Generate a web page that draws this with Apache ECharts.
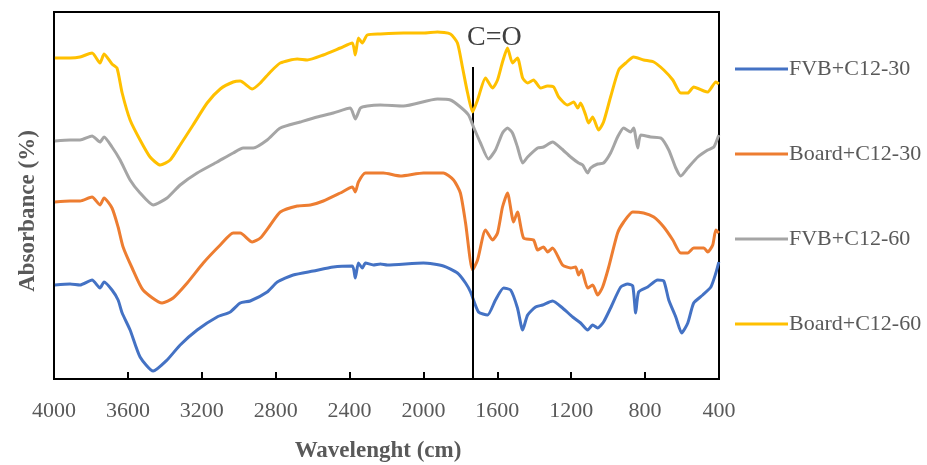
<!DOCTYPE html>
<html>
<head>
<meta charset="utf-8">
<script src="https://cdn.jsdelivr.net/npm/echarts@6/dist/echarts.min.js"></script>
<style>
  html, body { margin: 0; padding: 0; background: #fff; }
  #ec { width: 927px; height: 465px; }
</style>
</head>
<body>
<div id="ec"></div>
<script>
// wavenumber (cm-1) / absorbance (arbitrary units, curves stacked with offsets)
const seriesNames = ['FVB+C12-30', 'Board+C12-30', 'FVB+C12-60', 'Board+C12-60']
const seriesColors = ['#4472C4', '#ED7D31', '#A5A5A5', '#FFC000']
const xTicks = [4000, 3600, 3200, 2800, 2400, 2000, 1600, 1200, 800, 400]
const coLine = 1735

const fvb30 = [
  [3995, 94], [3913, 95], [3859, 94], [3794, 99], [3751, 91], [3729, 97], [3686, 89], [3653, 79],
  [3631, 66], [3588, 49], [3534, 22], [3463, 8], [3388, 19], [3317, 34], [3225, 49], [3117, 62],
  [3046, 67], [2992, 76], [2938, 78], [2846, 87], [2791, 97], [2705, 104], [2596, 108], [2488, 112],
  [2385, 113], [2369, 101], [2352, 116], [2331, 111], [2314, 116], [2271, 114], [2233, 115], [2195, 114],
  [2000, 116], [1892, 113], [1816, 106], [1772, 96], [1745, 87], [1702, 67], [1653, 64], [1610, 79],
  [1566, 91], [1528, 89], [1491, 71], [1463, 49], [1436, 64], [1393, 72], [1355, 74], [1301, 78],
  [1247, 71], [1192, 62], [1149, 56], [1111, 49], [1084, 54], [1057, 51], [1025, 57], [987, 71],
  [932, 92], [894, 95], [867, 93], [851, 66], [835, 87], [786, 92], [732, 99], [699, 98],
  [672, 79], [634, 62], [602, 46], [569, 56], [537, 76], [488, 84], [444, 92], [417, 106], [401, 117]
]

const board30 = [
  [3995, 177], [3913, 178], [3859, 178], [3794, 182], [3751, 174], [3729, 181], [3686, 171], [3653, 152],
  [3626, 132], [3577, 111], [3518, 89], [3415, 76], [3355, 81], [3279, 96], [3192, 116], [3100, 134],
  [3030, 146], [2992, 146], [2927, 137], [2883, 141], [2829, 154], [2775, 167], [2683, 173], [2612, 174],
  [2542, 178], [2450, 186], [2385, 192], [2369, 187], [2352, 197], [2314, 206], [2217, 206], [2125, 203],
  [2000, 206], [1892, 206], [1837, 199], [1800, 186], [1772, 156], [1734, 109], [1707, 119], [1664, 149],
  [1626, 139], [1599, 146], [1572, 172], [1545, 186], [1512, 157], [1491, 167], [1458, 141], [1404, 139],
  [1382, 129], [1350, 132], [1328, 127], [1301, 131], [1247, 114], [1203, 111], [1176, 112], [1160, 104],
  [1144, 109], [1111, 91], [1084, 94], [1057, 84], [1030, 92], [997, 112], [949, 146], [916, 157],
  [867, 167], [808, 166], [753, 162], [699, 152], [650, 139], [607, 126], [569, 126], [537, 131],
  [482, 131], [461, 127], [434, 134], [417, 149], [401, 146]
]

const fvb60 = [
  [3995, 238], [3913, 239], [3859, 239], [3794, 243], [3751, 237], [3729, 242], [3686, 232], [3642, 219],
  [3588, 199], [3534, 186], [3463, 174], [3388, 181], [3317, 194], [3225, 206], [3117, 217], [3030, 226],
  [2976, 231], [2921, 231], [2846, 239], [2775, 251], [2667, 257], [2575, 262], [2488, 266], [2396, 271],
  [2369, 260], [2341, 271], [2304, 273], [2233, 274], [2108, 273], [1924, 280], [1854, 279], [1800, 272],
  [1756, 264], [1729, 252], [1691, 236], [1648, 220], [1610, 229], [1572, 246], [1545, 251], [1518, 246],
  [1491, 232], [1463, 216], [1436, 222], [1382, 231], [1350, 232], [1301, 237], [1257, 231], [1203, 222],
  [1160, 216], [1138, 214], [1111, 206], [1095, 211], [1057, 215], [1025, 216], [987, 226], [949, 242],
  [916, 251], [878, 247], [862, 251], [840, 231], [824, 244], [770, 242], [715, 241], [672, 229],
  [634, 211], [607, 203], [569, 211], [515, 222], [461, 229], [428, 232], [401, 244]
]

const board60 = [
  [3995, 321], [3913, 321], [3859, 322], [3794, 326], [3751, 316], [3729, 325], [3686, 315], [3659, 311],
  [3631, 286], [3588, 259], [3534, 239], [3480, 222], [3425, 214], [3371, 219], [3317, 234], [3247, 254],
  [3171, 276], [3100, 290], [3030, 297], [2992, 298], [2927, 290], [2883, 296], [2829, 307], [2775, 316],
  [2683, 320], [2629, 319], [2542, 324], [2450, 331], [2385, 336], [2369, 324], [2352, 341], [2331, 336],
  [2304, 344], [2233, 345], [2108, 346], [2000, 346], [1924, 347], [1854, 345], [1816, 336], [1789, 312],
  [1761, 286], [1734, 267], [1707, 279], [1664, 301], [1626, 291], [1599, 299], [1572, 317], [1545, 331],
  [1518, 316], [1491, 321], [1463, 301], [1436, 296], [1404, 299], [1366, 291], [1328, 293], [1295, 292],
  [1268, 282], [1220, 274], [1187, 277], [1165, 271], [1149, 276], [1122, 264], [1106, 256], [1084, 262],
  [1052, 249], [1025, 257], [987, 282], [943, 309], [905, 316], [862, 322], [808, 319], [753, 317],
  [699, 309], [650, 299], [607, 286], [569, 286], [537, 292], [482, 288], [461, 287], [417, 297], [401, 295]
]

const allData = [fvb30, board30, fvb60, board60]
const font = '"Liberation Serif", serif'

const ec = echarts.init(document.getElementById('ec'))

let series = allData.map((d, i) => {
  return {
    name: seriesNames[i],
    type: 'line',
    data: d,
    symbol: 'none',
    smooth: 0.2,
    lineStyle: { color: seriesColors[i], width: 3 },
    itemStyle: { color: seriesColors[i] },
    z: 3 + i
  }
})

// C=O marker line
series[0].markLine = {
  silent: true,
  symbol: 'none',
  animation: false,
  lineStyle: { color: '#000', width: 2, type: 'solid' },
  label: { show: false },
  data: [[{ coord: [coLine, 0] }, { coord: [coLine, 312] }]]
}

ec.setOption({
  animation: false,
  grid: {
    left: 54,
    right: 208,
    top: 12,
    bottom: 86,
    show: true,
    borderColor: '#000',
    borderWidth: 2
  },
  legend: {
    data: seriesNames,
    orient: 'vertical',
    left: 730,
    top: 53,
    itemWidth: 53,
    itemHeight: 20,
    itemGap: 63,
    icon: 'path://M0,9 L53,9 L53,12 L0,12 Z',
    textStyle: {
      color: '#595959',
      fontFamily: font,
      fontSize: 22,
      padding: [0, 0, 0, -4]
    }
  },
  graphic: [
    {
      type: 'text',
      left: 467,
      top: 24,
      style: { text: 'C=O', fill: '#404040', font: '28px "Liberation Serif", serif' }
    },
    {
      type: 'text',
      x: 28,
      y: 211,
      rotation: Math.PI / 2,
      style: {
        text: 'Absorbance (%)',
        fill: '#595959',
        font: 'bold 23px "Liberation Serif", serif',
        align: 'center',
        verticalAlign: 'middle'
      }
    },
    {
      type: 'text',
      x: 378,
      y: 451,
      style: {
        text: 'Wavelenght (cm)',
        fill: '#595959',
        font: 'bold 23px "Liberation Serif", serif',
        align: 'center',
        verticalAlign: 'middle'
      }
    }
  ],
  xAxis: {
    type: 'value',
    inverse: true,
    min: 400,
    max: 4000,
    interval: 400,
    axisLine: { show: true, onZero: false, lineStyle: { color: '#000', width: 2 } },
    axisTick: { show: true, inside: true, length: 7, lineStyle: { color: '#000', width: 2 } },
    axisLabel: {
      color: '#595959',
      fontFamily: font,
      fontSize: 22,
      margin: 21,
      formatter: v => xTicks.indexOf(v) >= 0 ? String(v) : ''
    },
    splitLine: { show: false }
  },
  yAxis: {
    type: 'value',
    min: 0,
    max: 367,
    axisLine: { show: true, lineStyle: { color: '#000', width: 2 } },
    axisTick: { show: false },
    axisLabel: { show: false },
    splitLine: { show: false }
  },
  series: series
})
</script>
</body>
</html>
